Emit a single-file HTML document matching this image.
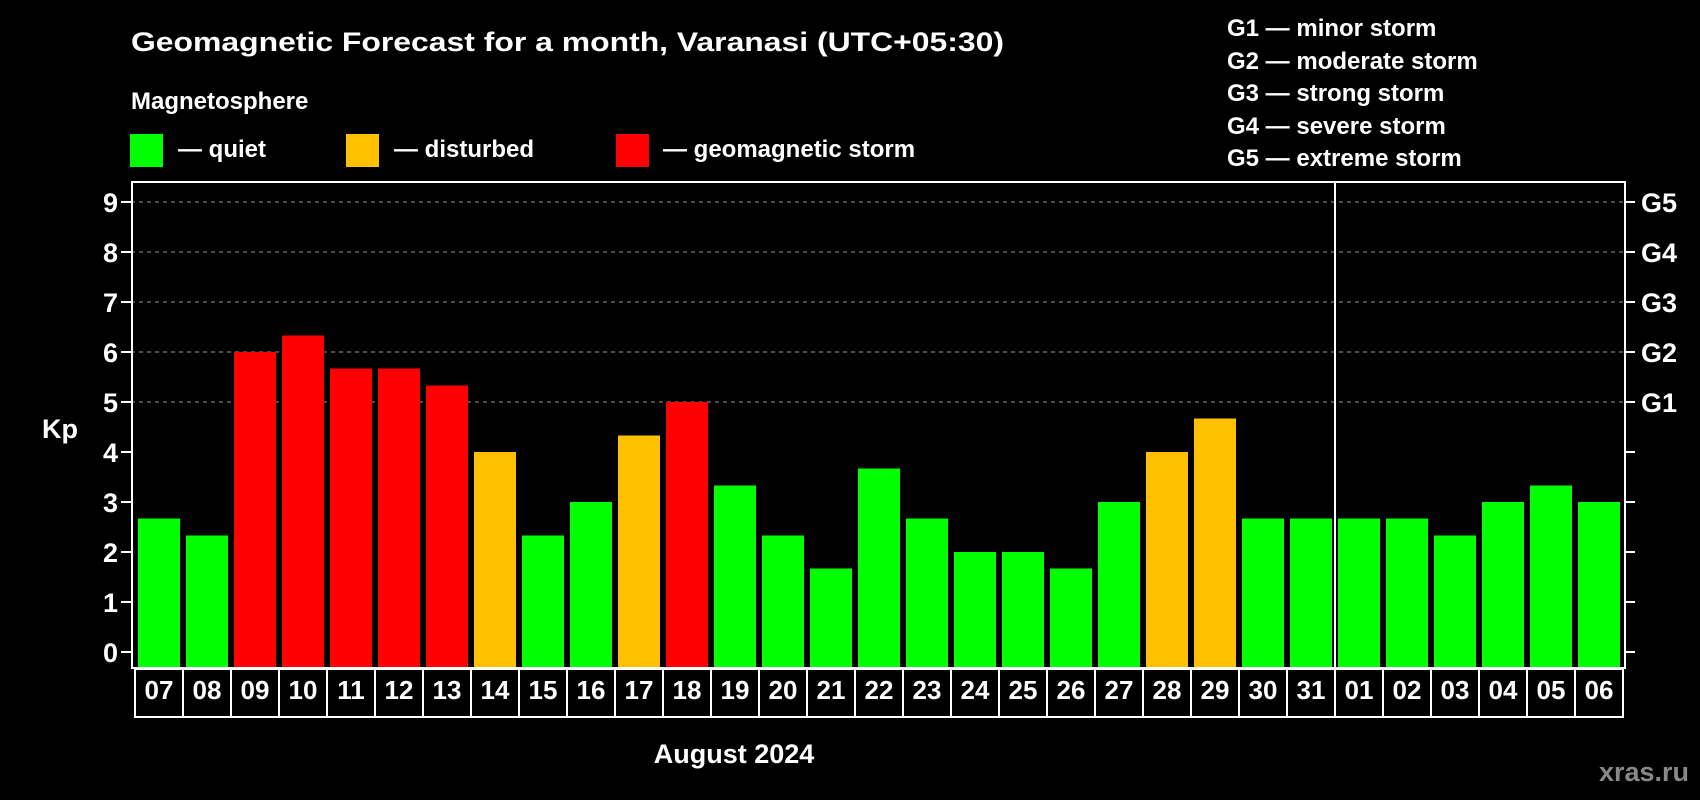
<!DOCTYPE html>
<html><head><meta charset="utf-8"><style>
html,body{margin:0;padding:0;background:#000;}
svg{display:block;font-family:"Liberation Sans",Arial,sans-serif;font-weight:bold;}
</style></head><body>
<svg id="chart" width="1700" height="800" xmlns="http://www.w3.org/2000/svg">
<rect width="1700" height="800" fill="#000"/>
<text x="131" y="51" fill="#fff" font-size="27" textLength="873" lengthAdjust="spacingAndGlyphs">Geomagnetic Forecast for a month, Varanasi (UTC+05:30)</text>
<text x="131" y="109" fill="#fff" font-size="24">Magnetosphere</text>
<g><rect x="130" y="134" width="33" height="33" fill="#00ff00"/><text x="178" y="157" fill="#fff" font-size="24">— quiet</text></g>
<g><rect x="346" y="134" width="33" height="33" fill="#ffc000"/><text x="394" y="157" fill="#fff" font-size="24">— disturbed</text></g>
<g><rect x="616" y="134" width="33" height="33" fill="#ff0000"/><text x="663" y="157" fill="#fff" font-size="24">— geomagnetic storm</text></g>
<g fill="#fff" font-size="24">
<text x="1227" y="36">G1 — minor storm</text>
<text x="1227" y="69">G2 — moderate storm</text>
<text x="1227" y="101">G3 — strong storm</text>
<text x="1227" y="134">G4 — severe storm</text>
<text x="1227" y="166">G5 — extreme storm</text>
</g>
<text x="42" y="438" fill="#fff" font-size="27">Kp</text>
<text x="734" y="763" fill="#fff" font-size="27" text-anchor="middle">August 2024</text>
<text x="1689" y="781" fill="#888" font-size="27" text-anchor="end">xras.ru</text>
<g id="grid"></g><g id="bars"></g><g id="axes"></g>
</svg>
<script>
const days = ["07","08","09","10","11","12","13","14","15","16","17","18","19","20","21","22","23","24","25","26","27","28","29","30","31","01","02","03","04","05","06"];
const kp = [2.67,2.33,6,6.33,5.67,5.67,5.33,4,2.33,3,4.33,5,3.33,2.33,1.67,3.67,2.67,2,2,1.67,3,4,4.67,2.67,2.67,2.67,2.67,2.33,3,3.33,3];
const yTicks = [0,1,2,3,4,5,6,7,8,9];
const gLabels = ["","","","","","G1","G2","G3","G4","G5"];
const monthBreak = 25;

const NS="http://www.w3.org/2000/svg";
const plotL=131, plotR=1625, plotT=182, plotB=668, boxB=717;
const y=v=>652-50*v;
const x=i=>138+48*i;
const barW=42;
function mk(tag,attrs,parent){const e=document.createElementNS(NS,tag);for(const k in attrs)e.setAttribute(k,attrs[k]);parent.appendChild(e);return e;}
const grid=document.getElementById('grid'),bars=document.getElementById('bars'),axes=document.getElementById('axes');
yTicks.forEach((t,i)=>{
  if(t>=5){const g=mk('line',{x1:plotL,x2:plotR,y1:y(t),y2:y(t),stroke:'#999','stroke-width':1,'stroke-dasharray':'4,4'},grid);
  
  }
  const tl=mk('line',{x1:plotL-10,x2:plotL,y1:y(t),y2:y(t),stroke:'#fff','stroke-width':2},axes);
  
  
  const tr=mk('line',{x1:plotR,x2:plotR+10,y1:y(t),y2:y(t),stroke:'#fff','stroke-width':2},axes);
  
  
  const lb=mk('text',{x:118,y:y(t)+10,fill:'#fff','font-size':27,'text-anchor':'end'},axes);lb.textContent=t;
  
  
  if(gLabels[i]){const gl=mk('text',{x:1641,y:y(t)+10,fill:'#fff','font-size':27},axes);gl.textContent=gLabels[i];
  
  }
});
kp.forEach((v,i)=>{
  const c=v>=5?'#ff0000':(v>=4?'#ffc000':'#00ff00');
  const r=mk('rect',{x:x(i),y:y(v),width:barW,height:plotB-y(v),fill:c},bars);
  
  
  const cell=mk('rect',{x:135+48*i,y:plotB+1,width:48,height:boxB-plotB-1,fill:'none',stroke:'#fff','stroke-width':2},axes);
  
  
  const t=mk('text',{x:159+48*i,y:699,fill:'#fff','font-size':26,'text-anchor':'middle'},axes);t.textContent=days[i];
  
  
});
const frame=mk('rect',{x:plotL+1,y:plotT,width:plotR-plotL-1,height:plotB-plotT,fill:'none',stroke:'#fff','stroke-width':2},axes);


const sep=mk('line',{x1:135+48*monthBreak,x2:135+48*monthBreak,y1:plotT,y2:boxB,stroke:'#fff','stroke-width':2},axes);


</script>
</body></html>
